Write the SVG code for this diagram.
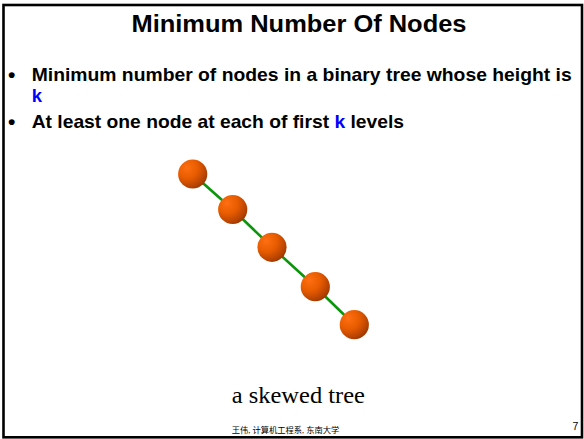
<svg xmlns="http://www.w3.org/2000/svg" width="584" height="439" viewBox="0 0 584 439">
  <style>
    .frame { fill: #ffffff; stroke: #000000; stroke-width: 2.6; }
    .title { font-family: "Liberation Sans", Arial, sans-serif; font-weight: bold; font-size: 23px; fill: #000; }
    .bullet { font-family: "Liberation Sans", Arial, sans-serif; font-weight: bold; font-size: 18.5px; fill: #000; }
    .dot { font-family: "Liberation Sans", Arial, sans-serif; font-weight: bold; font-size: 21px; fill: #000; }
    .kvar { fill: #0000ff; }
    .caption { font-family: "Liberation Serif", "Times New Roman", serif; font-size: 22.5px; fill: #000; }
    .footer { font-family: "Liberation Serif", "Noto Sans CJK SC", serif; font-size: 8.3px; fill: #000; }
    .pagenum { font-family: "Liberation Sans", Arial, sans-serif; font-size: 10.5px; fill: #000; }
    .edge { stroke: #0a960a; stroke-width: 2.6; stroke-linecap: round; }
    .node { fill: url(#ball); }
  </style>
  <defs>
    <radialGradient id="ball" cx="0.33" cy="0.3" r="0.8" fx="0.3" fy="0.28">
      <stop offset="0" stop-color="#ff6e12"/>
      <stop offset="0.45" stop-color="#e85c00"/>
      <stop offset="0.8" stop-color="#b84400"/>
      <stop offset="1" stop-color="#8e3400"/>
    </radialGradient>
  </defs>

  <rect class="frame" x="3.5" y="5" width="578.5" height="432.3"/>

  <text class="title" x="131.5" y="32.3" textLength="335" lengthAdjust="spacingAndGlyphs">Minimum Number Of Nodes</text>

  <text class="dot" x="8" y="82">•</text>
  <text class="bullet" x="31.7" y="81" textLength="540" lengthAdjust="spacingAndGlyphs">Minimum number of nodes in a binary tree whose height is</text>
  <text class="bullet kvar" x="31.7" y="101.5">k</text>
  <text class="dot" x="8" y="128.5">•</text>
  <text class="bullet" x="31.7" y="127.5" textLength="372.3" lengthAdjust="spacingAndGlyphs">At least one node at each of first <tspan class="kvar">k</tspan> levels</text>

  <g id="connectors">
    <line class="edge" x1="192.7" y1="174" x2="232.7" y2="209.5"/>
    <line class="edge" x1="232.7" y1="209.5" x2="272" y2="247.3"/>
    <line class="edge" x1="272" y1="247.3" x2="315.3" y2="286.7"/>
    <line class="edge" x1="315.3" y1="286.7" x2="354.3" y2="324.7"/>
  </g>

  <g id="node1"><circle class="node" cx="192.7" cy="174" r="14.6"/></g>
  <g id="node2"><circle class="node" cx="232.7" cy="209.5" r="14.6"/></g>
  <g id="node3"><circle class="node" cx="272" cy="247.3" r="14.6"/></g>
  <g id="node4"><circle class="node" cx="315.3" cy="286.7" r="14.6"/></g>
  <g id="node5"><circle class="node" cx="354.3" cy="324.7" r="14.6"/></g>

  <text class="caption" x="231.7" y="402.7" textLength="133.3" lengthAdjust="spacingAndGlyphs">a skewed tree</text>
  <text class="footer" x="231.7" y="433" textLength="107.6" lengthAdjust="spacingAndGlyphs">王伟, 计算机工程系, 东南大学</text>
  <text class="pagenum" x="578.3" y="430" text-anchor="end">7</text>
</svg>
